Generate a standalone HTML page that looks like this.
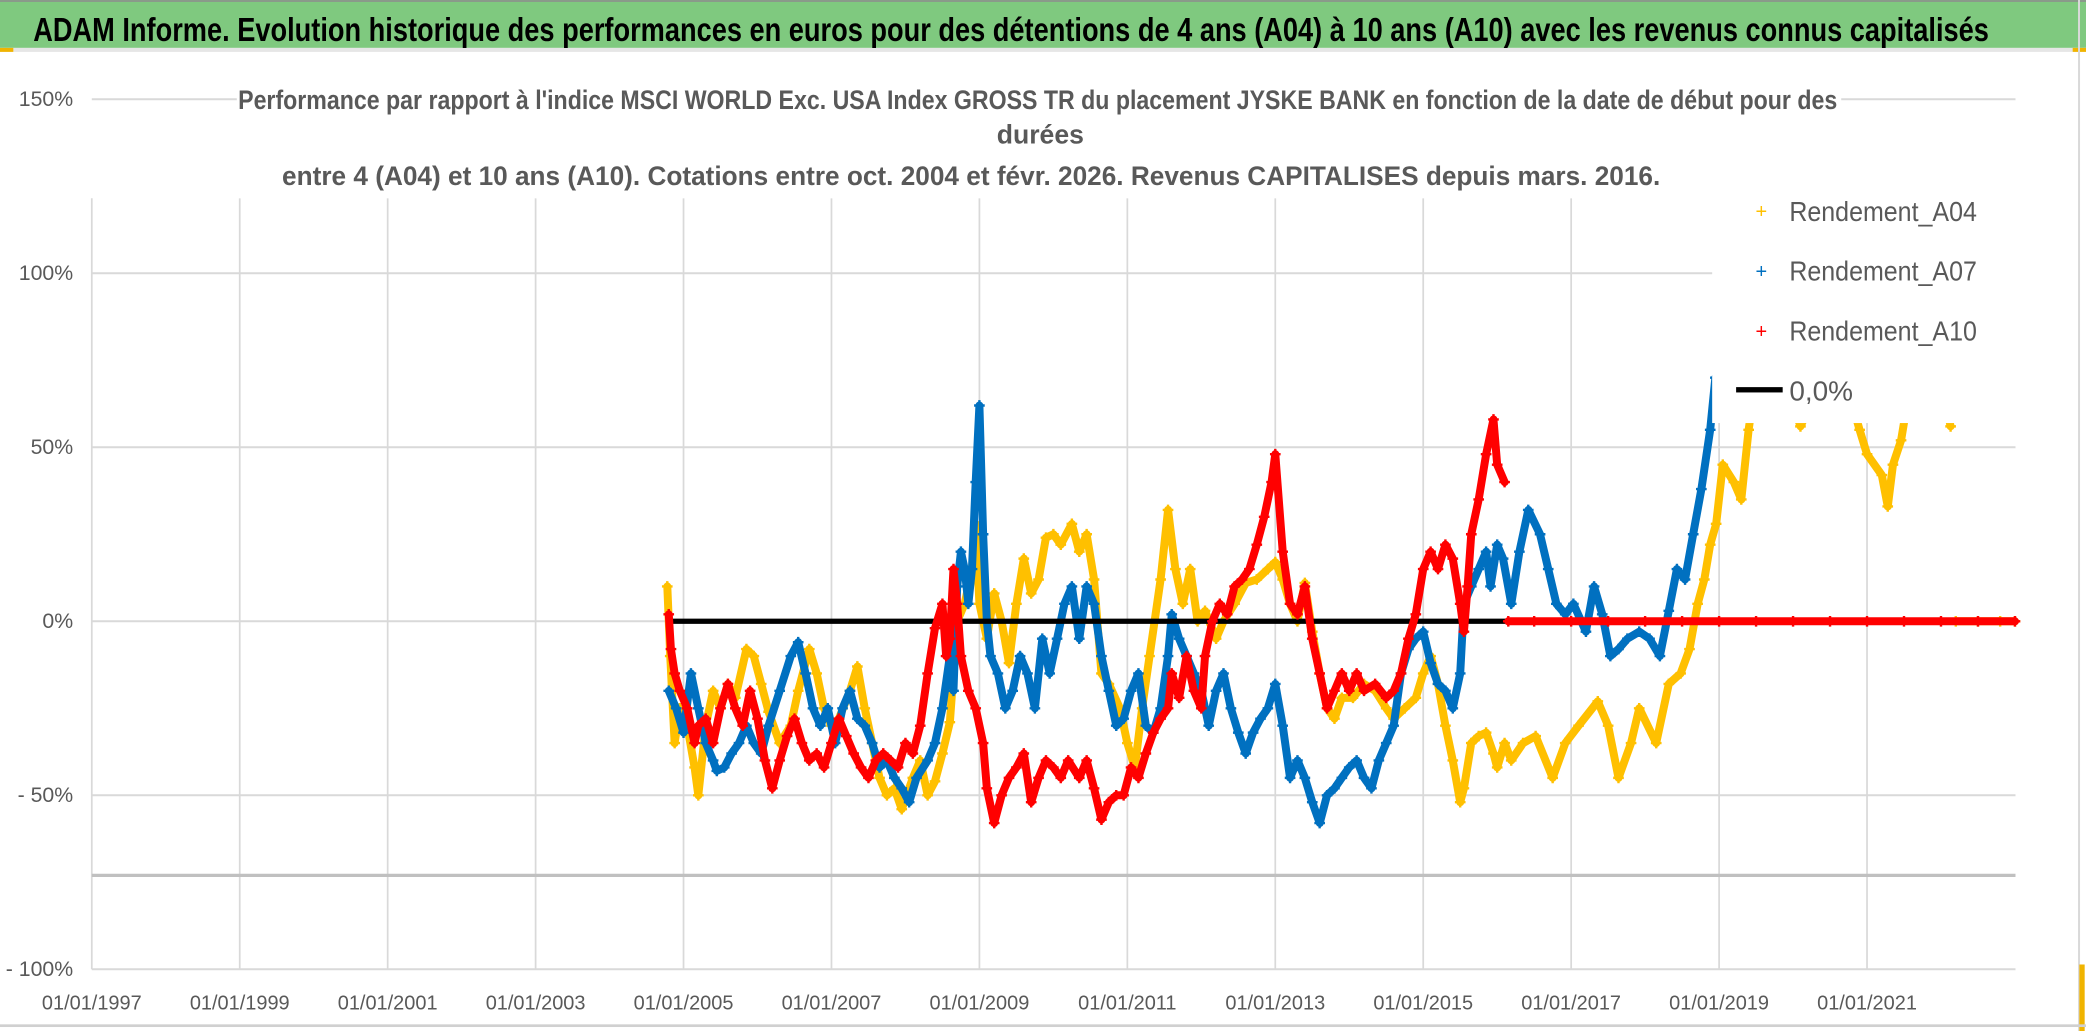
<!DOCTYPE html>
<html><head><meta charset="utf-8"><style>
html,body{margin:0;padding:0;background:#fff;}
svg{display:block;}
text{font-family:"Liberation Sans Narrow","Liberation Sans",sans-serif;}
</style></head><body>
<svg id="chart" xmlns="http://www.w3.org/2000/svg" width="2086" height="1031" viewBox="0 0 1568 775" preserveAspectRatio="none">
<rect x="0" y="0" width="1568" height="775" fill="#fff"/>
<rect x="0" y="0" width="1568" height="36" fill="#7fc97f"/>
<rect x="0" y="0" width="1568" height="1.5" fill="#8a9a8a"/>
<rect x="0" y="36" width="1568" height="3" fill="#e6e6e6"/>
<rect x="0" y="36" width="10" height="3" fill="#f0b400"/>
<rect x="1558" y="36" width="10" height="3" fill="#f0b400"/>
<text x="25" y="31" font-size="25" font-weight="bold" fill="#000" textLength="1470" lengthAdjust="spacingAndGlyphs">ADAM Informe. Evolution historique des performances en euros pour des détentions de 4 ans (A04) à 10 ans (A10) avec les revenus connus capitalisés</text>
<g id="grid"></g>
<g id="axes"></g>
<rect x="178" y="60" width="1206" height="89" fill="#fff"/>
<text x="179" y="82" font-size="20" font-weight="bold" fill="#595959" textLength="1202" lengthAdjust="spacingAndGlyphs">Performance par rapport à l'indice MSCI WORLD Exc. USA Index GROSS TR  du placement JYSKE BANK en fonction de la date de début pour des</text>
<text x="782" y="108" font-size="20" font-weight="bold" fill="#595959" text-anchor="middle">durées</text>
<text x="212" y="139" font-size="20" font-weight="bold" fill="#595959" textLength="1036" lengthAdjust="spacingAndGlyphs">entre 4 (A04) et 10 ans (A10). Cotations entre oct. 2004 et févr. 2026. Revenus CAPITALISES depuis mars. 2016.</text>
<g id="marks"></g>
<g>
<rect x="1287" y="141" width="233" height="177" fill="#fff"/>
<g><text x="1324" y="164" font-size="15" fill="#ffc000" text-anchor="middle">+</text><text x="1345" y="166" font-size="21" fill="#595959" textLength="141" lengthAdjust="spacingAndGlyphs">Rendement_A04</text></g>
<g><text x="1324" y="209" font-size="15" fill="#0070c0" text-anchor="middle">+</text><text x="1345" y="211" font-size="21" fill="#595959" textLength="141" lengthAdjust="spacingAndGlyphs">Rendement_A07</text></g>
<g><text x="1324" y="254" font-size="15" fill="#ff0000" text-anchor="middle">+</text><text x="1345" y="256" font-size="21" fill="#595959" textLength="141" lengthAdjust="spacingAndGlyphs">Rendement_A10</text></g>
<g><rect x="1305" y="291" width="35" height="4" fill="#000"/><text x="1345" y="301" font-size="21" fill="#595959">0,0%</text></g>
</g>
<rect x="1562" y="0" width="1.5" height="775" fill="#d9d9d9"/>
<rect x="1563" y="725" width="4" height="50" fill="#f0b400"/>
<rect x="0" y="770" width="1568" height="2" fill="#d0d0d0"/>
</svg>
<script>
const yTicks = [150, 100, 50, 0, -50, -100];
const yTickLabels = ["150%", "100%", "50%", "0%", "- 50%", "- 100%"];
const xTickYears = [1997, 1999, 2001, 2003, 2005, 2007, 2009, 2011, 2013, 2015, 2017, 2019, 2021];
const xTickLabels = ["01/01/1997","01/01/1999","01/01/2001","01/01/2003","01/01/2005","01/01/2007","01/01/2009","01/01/2011","01/01/2013","01/01/2015","01/01/2017","01/01/2019","01/01/2021"];

const a04Years = [2004.78,2004.82,2004.88,2004.95,2005.05,2005.15,2005.2,2005.3,2005.4,2005.5,2005.6,2005.7,2005.85,2005.95,2006.05,2006.15,2006.3,2006.45,2006.55,2006.7,2006.8,2006.9,2007.0,2007.1,2007.25,2007.35,2007.45,2007.55,2007.65,2007.75,2007.85,2007.95,2008.1,2008.2,2008.3,2008.4,2008.5,2008.6,2008.7,2008.8,2008.9,2008.95,2009.0,2009.1,2009.2,2009.3,2009.4,2009.5,2009.6,2009.7,2009.8,2009.9,2010.0,2010.1,2010.25,2010.35,2010.45,2010.55,2010.65,2010.75,2010.9,2011.0,2011.1,2011.2,2011.3,2011.45,2011.55,2011.65,2011.75,2011.85,2011.95,2012.05,2012.2,2012.3,2012.45,2012.6,2012.75,2012.9,2013.0,2013.1,2013.2,2013.3,2013.4,2013.5,2013.6,2013.7,2013.8,2013.9,2014.05,2014.2,2014.35,2014.5,2014.6,2014.75,2014.9,2015.0,2015.1,2015.2,2015.3,2015.4,2015.5,2015.55,2015.65,2015.75,2015.85,2015.95,2016.0,2016.1,2016.19,2016.35,2016.52,2016.75,2016.92,2017.1,2017.36,2017.5,2017.64,2017.81,2017.92,2018.15,2018.32,2018.48,2018.6,2018.71,2018.8,2018.88,2018.96,2019.05,2019.2,2019.3,2019.4,2019.5,2019.8,2020.1,2020.4,2020.7,2020.9,2021.0,2021.2,2021.28,2021.35,2021.46,2021.6,2022.0,2022.13,2022.2,2022.5,2022.8,2023.0];
const a04Values = [10,-10,-35,-25,-30,-42,-50,-30,-20,-25,-18,-22,-8,-10,-18,-26,-35,-30,-20,-8,-15,-25,-30,-28,-20,-13,-25,-35,-45,-50,-48,-54,-45,-40,-50,-46,-38,-29,0,5,15,28,5,-5,8,0,-12,5,18,8,12,24,25,22,28,20,25,12,-15,-18,-25,-35,-42,-25,-10,12,32,15,5,15,0,3,-5,0,5,11,12,15,17,12,5,0,11,-3,-15,-25,-28,-22,-22,-18,-20,-25,-28,-25,-22,-15,-10,-18,-30,-40,-52,-48,-35,-33,-32,-38,-42,-35,-40,-35,-33,-45,-35,-30,-23,-30,-45,-35,-25,-35,-18,-15,-8,5,12,22,28,45,40,35,55,70,75,56,70,70,55,48,42,33,45,52,70,70,56,0,0,0,0];

const a07Years = [2004.8,2004.9,2005.0,2005.1,2005.2,2005.3,2005.4,2005.45,2005.55,2005.65,2005.75,2005.85,2005.95,2006.05,2006.15,2006.3,2006.45,2006.55,2006.65,2006.75,2006.85,2006.95,2007.05,2007.15,2007.25,2007.35,2007.45,2007.55,2007.65,2007.75,2007.85,2007.95,2008.05,2008.15,2008.3,2008.4,2008.5,2008.6,2008.65,2008.7,2008.75,2008.8,2008.85,2008.9,2008.95,2009.0,2009.05,2009.1,2009.15,2009.25,2009.35,2009.45,2009.55,2009.65,2009.75,2009.85,2009.95,2010.05,2010.15,2010.25,2010.35,2010.45,2010.55,2010.65,2010.75,2010.85,2010.95,2011.05,2011.15,2011.25,2011.35,2011.45,2011.55,2011.6,2011.7,2011.8,2011.9,2012.0,2012.1,2012.2,2012.3,2012.4,2012.5,2012.6,2012.7,2012.8,2012.9,2013.0,2013.1,2013.2,2013.3,2013.4,2013.5,2013.6,2013.7,2013.8,2013.9,2014.0,2014.1,2014.2,2014.3,2014.4,2014.5,2014.6,2014.7,2014.8,2014.9,2015.0,2015.1,2015.2,2015.3,2015.4,2015.5,2015.55,2015.65,2015.75,2015.85,2015.91,2016.0,2016.08,2016.19,2016.3,2016.42,2016.58,2016.69,2016.8,2016.92,2017.03,2017.2,2017.31,2017.42,2017.53,2017.64,2017.76,2017.92,2018.06,2018.2,2018.32,2018.43,2018.54,2018.65,2018.76,2018.88,2018.95];
const a07Values = [-20,-25,-32,-15,-25,-35,-40,-43,-42,-38,-35,-30,-35,-38,-30,-20,-10,-6,-15,-25,-30,-25,-35,-25,-20,-28,-30,-35,-42,-40,-45,-48,-52,-45,-40,-35,-25,-10,-20,10,20,15,5,15,40,62,25,0,-10,-15,-25,-20,-10,-15,-25,-5,-15,-5,5,10,-5,10,5,-10,-20,-30,-28,-20,-15,-30,-32,-25,-10,2,-5,-10,-15,-20,-30,-20,-15,-25,-32,-38,-32,-28,-25,-18,-30,-45,-40,-45,-52,-58,-50,-48,-45,-42,-40,-45,-48,-40,-35,-30,-15,-8,-5,-3,-12,-18,-20,-25,-15,5,10,15,20,10,22,18,5,20,32,25,15,5,2,5,-3,10,2,-10,-8,-5,-3,-5,-10,3,15,12,25,38,55,70];

const a10Years = [2004.8,2004.83,2004.88,2004.95,2005.05,2005.15,2005.2,2005.3,2005.4,2005.5,2005.6,2005.7,2005.8,2005.9,2006.0,2006.1,2006.2,2006.3,2006.4,2006.5,2006.6,2006.7,2006.8,2006.9,2007.0,2007.1,2007.2,2007.3,2007.4,2007.5,2007.6,2007.7,2007.8,2007.9,2008.0,2008.1,2008.2,2008.3,2008.4,2008.5,2008.55,2008.6,2008.65,2008.7,2008.75,2008.85,2008.95,2009.05,2009.1,2009.2,2009.3,2009.4,2009.5,2009.6,2009.7,2009.8,2009.9,2010.0,2010.1,2010.2,2010.35,2010.45,2010.55,2010.65,2010.75,2010.85,2010.95,2011.05,2011.15,2011.25,2011.35,2011.45,2011.55,2011.6,2011.7,2011.8,2011.9,2012.0,2012.05,2012.15,2012.25,2012.35,2012.45,2012.55,2012.65,2012.75,2012.85,2012.95,2013.0,2013.1,2013.2,2013.3,2013.4,2013.5,2013.6,2013.7,2013.8,2013.9,2014.0,2014.1,2014.2,2014.35,2014.5,2014.6,2014.7,2014.8,2014.9,2015.0,2015.1,2015.2,2015.3,2015.4,2015.5,2015.55,2015.6,2015.65,2015.75,2015.85,2015.95,2016.0,2016.1,2016.15,2016.5,2017.0,2017.5,2018.0,2018.5,2019.0,2019.5,2020.0,2020.5,2021.0,2021.5,2022.0,2022.5,2023.0];
const a10Values = [2,-8,-15,-20,-25,-35,-30,-28,-35,-25,-18,-25,-30,-20,-28,-40,-48,-40,-33,-28,-35,-40,-38,-42,-35,-28,-33,-38,-42,-45,-40,-38,-40,-42,-35,-38,-30,-15,-2,5,-10,-5,15,5,-10,-20,-25,-35,-48,-58,-50,-45,-42,-38,-52,-45,-40,-42,-45,-40,-45,-40,-48,-57,-52,-50,-50,-42,-45,-38,-32,-28,-25,-15,-22,-10,-20,-25,-10,0,5,2,10,12,15,22,30,40,48,20,5,2,10,-5,-15,-25,-20,-15,-20,-15,-20,-18,-22,-20,-15,-5,2,15,20,15,22,18,5,-3,10,25,35,48,58,45,40,0,0,0,0,0,0,0,0,0,0,0,0,0,0,0];

const zeroStart = 2004.8, zeroEnd = 2016.15;

const NS = "http://www.w3.org/2000/svg";
const X0 = 69, X1 = 1515, YEAR0 = 1997, PXYEAR = 55.6;
const Y0 = 467, PXPCT = 2.616;
function xScale(yr){ return X0 + (yr - YEAR0) * PXYEAR; }
function yScale(v){ return Y0 - v * PXPCT; }
function mk(tag, attrs, parent){
  const e = document.createElementNS(NS, tag);
  for (const k in attrs) e.setAttribute(k, attrs[k]);
  parent.appendChild(e);
  return e;
}
const grid = document.getElementById('grid');
const axes = document.getElementById('axes');
const marks = document.getElementById('marks');

xTickYears.forEach((yr, i) => {
  const x = xScale(yr);
  const l = mk('line', {x1:x, x2:x, y1:149, y2:yScale(-100), stroke:'#d9d9d9', 'stroke-width':1.3}, grid);
  
  
  const t = mk('text', {x:x, y:759, 'font-size':15, fill:'#595959', 'text-anchor':'middle'}, axes);
  t.textContent = xTickLabels[i];
  
  
});
yTicks.forEach((v, i) => {
  const y = yScale(v);
  const l = mk('line', {x1:X0, x2:X1, y1:y, y2:y, stroke:'#d9d9d9', 'stroke-width':1.5}, grid);
  
  
  const t = mk('text', {x:55, y:y+5, 'font-size':16, fill:'#595959', 'text-anchor':'end'}, axes);
  t.textContent = yTickLabels[i];
  
  
});
const band = mk('line', {x1:X0, x2:X1, y1:658, y2:658, stroke:'#c0c0c0', 'stroke-width':2.5}, grid);



function drawSeries(years, values, color, name){
  const g = mk('g', {}, marks);
  
  
  // split traces where the series jumps abruptly (no connecting stroke in the original scatter)
  let segs = [[]];
  years.forEach((yr, i) => {
    if (i > 0 && Math.abs(values[i] - values[i-1]) > 35 && Math.abs(values[i]) < 1) segs.push([]);
    segs[segs.length-1].push(xScale(yr).toFixed(1) + ',' + yScale(values[i]).toFixed(1));
  });
  segs.forEach(s => {
    const pl = mk('polyline', {points:s.join(' '), fill:'none', stroke:color, 'stroke-width':6, 'stroke-linejoin':'round', 'stroke-linecap':'round'}, g);
    
    
  });
  years.forEach((yr, i) => {
    const x = xScale(yr), y = yScale(values[i]);
    const p = mk('path', {d:`M${x-4},${y}H${x+4}M${x},${y-4}V${y+4}`, stroke:color, 'stroke-width':1.8}, g);
    
    
  });
}
drawSeries(a04Years, a04Values, '#ffc000', 'series-a04');
drawSeries(a07Years, a07Values, '#0070c0', 'series-a07');
const zl = mk('line', {x1:xScale(zeroStart), x2:xScale(zeroEnd), y1:yScale(0), y2:yScale(0), stroke:'#000', 'stroke-width':4}, marks);


drawSeries(a10Years, a10Values, '#ff0000', 'series-a10');
</script>
</body></html>
